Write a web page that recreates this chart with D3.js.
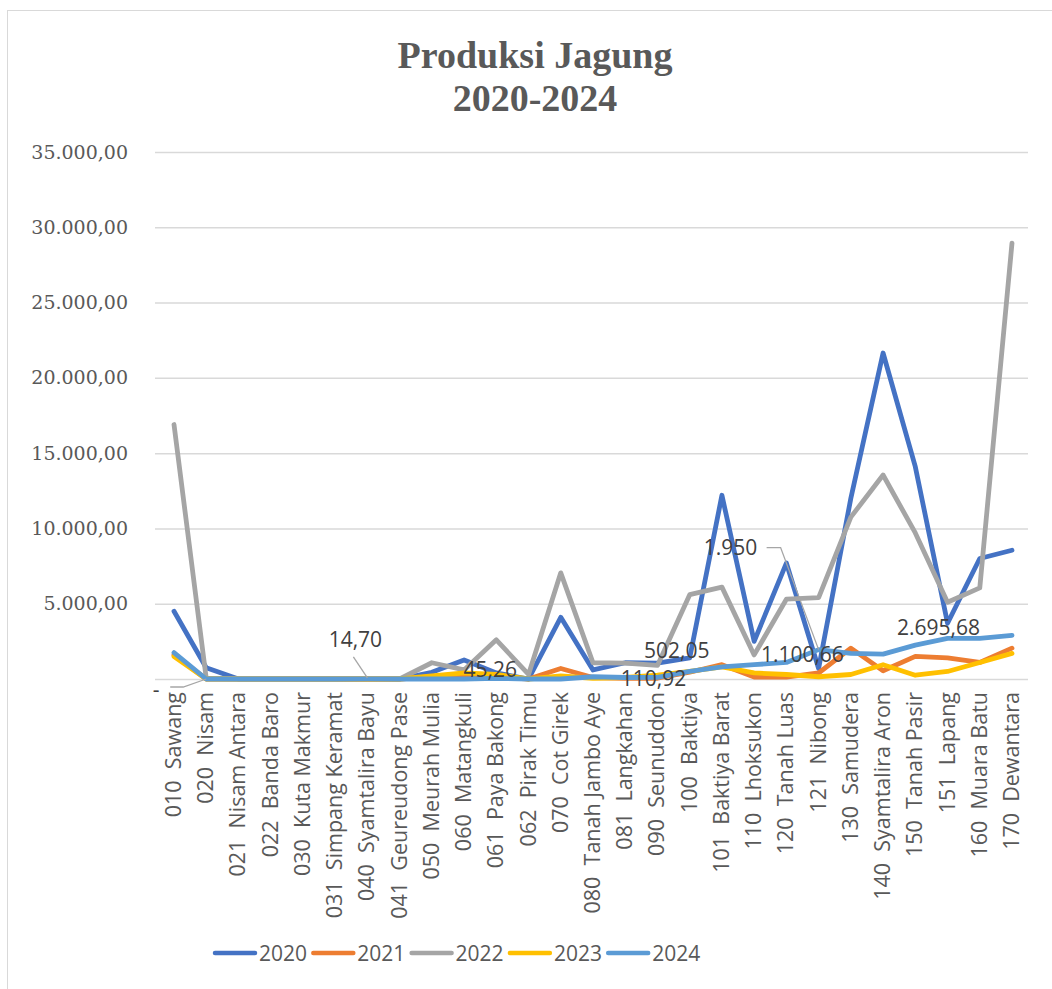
<!DOCTYPE html>
<html>
<head>
<meta charset="utf-8">
<script src="https://cdn.jsdelivr.net/npm/d3@7"></script>
<style>
  body { margin: 0; background: #fff; }
  svg { display: block; }
</style>
</head>
<body>
<div id="chart"></div>
<script>
// kecamatan (x axis categories)
const categories = [
  "010  Sawang", "020  Nisam", "021  Nisam Antara", "022  Banda Baro",
  "030  Kuta Makmur", "031  Simpang Keramat", "040  Syamtalira Bayu",
  "041  Geureudong Pase", "050  Meurah Mulia", "060  Matangkuli",
  "061  Paya Bakong", "062  Pirak Timu", "070  Cot Girek",
  "080  Tanah Jambo Aye", "081  Langkahan", "090  Seunuddon",
  "100  Baktiya", "101  Baktiya Barat", "110  Lhoksukon",
  "120  Tanah Luas", "121  Nibong", "130  Samudera",
  "140  Syamtalira Aron", "150  Tanah Pasir", "151  Lapang",
  "160  Muara Batu", "170  Dewantara"
];

const years = ["2020", "2021", "2022", "2023", "2024"];

// produksi per tahun
const v2020 = [4500, 750, 0, 0, 0, 0, 0, 0, 450, 1260, 400, 0, 4100, 600, 1080, 1050,
  1400, 12200, 2500, 7700, 700, 12000, 21650, 14100, 3700, 8000, 8550];
const v2021 = [1600, 0, 0, 0, 0, 0, 0, 0, 150, 250, 150, 0, 700, 100, 50, 50,
  450, 950, 130, 130, 400, 2050, 550, 1500, 1400, 1100, 2050];
const v2022 = [16900, 50, 0, 0, 0, 0, 0, 0, 1080, 600, 2600, 300, 7050, 1080, 1050, 900,
  5600, 6100, 1600, 5300, 5400, 10750, 13550, 9700, 5100, 6050, 28950];
const v2023 = [1500, 0, 0, 0, 0, 0, 0, 0, 200, 400, 300, 0, 200, 50, 100, 250,
  500, 800, 400, 300, 150, 300, 950, 250, 500, 1100, 1700];
const v2024 = [1750, 0, 0, 0, 0, 0, 14.70, 0, 0, 0, 45.26, 0, 0, 150, 100, 110.92,
  502.05, 800, 950, 1100.66, 1950, 1700, 1650, 2250, 2695.68, 2700, 2900];

const seriesValues = [v2020, v2021, v2022, v2023, v2024];
const colors = ["#4472c4", "#ed7d31", "#a5a5a5", "#ffc000", "#5b9bd5"];

const yTicks = [0, 5000, 10000, 15000, 20000, 25000, 30000, 35000];

// data labels shown on the 2024 series: category index + label offset (and leader)
const labels2024 = [
  { i: 1,  dx: -50, dy: 11,   leader: [[-36, 8], [-23, 8], [0, 0]] },
  { i: 6,  dx: -12, dy: -39,  leader: [[-14, -22], [0, -1]] },
  { i: 10, dx: -6,  dy: -9 },
  { i: 15, dx: -4,  dy: 1 },
  { i: 16, dx: -13, dy: -21 },
  { i: 19, dx: 16,  dy: -8 },
  { i: 20, dx: -88, dy: -102, leader: [[-52, -102], [-38, -102], [0, 0]] },
  { i: 24, dx: -9,  dy: -11 }
];

const width = 1052;
const height = 989;

const idLocale = d3.formatLocale({ decimal: ",", thousands: ".", grouping: [3], currency: ["Rp", ""] });
const fmt2 = idLocale.format(",.2f");
const fmt0 = idLocale.format(",.0f");
const labelText = v => v === 0 ? "-" : (Number.isInteger(v) ? fmt0(v) : fmt2(v));

const svg = d3.select("#chart")
  .append("svg")
  .attr("width", width)
  .attr("height", height);

// chart frame
svg.append("rect")
  .attr("x", 7.5).attr("y", 10.5)
  .attr("width", 1200).attr("height", 1200)
  .attr("fill", "#fff")
  .attr("stroke", "#d9d9d9");

const x = d3.scalePoint()
  .domain(categories)
  .range([174, 1012]);

const y = d3.scaleLinear()
  .domain([0, 35000])
  .range([679, 152]);

// title
const title = svg.append("text")
  .attr("text-anchor", "middle")
  .attr("fill", "#595959")
  .style("font-family", "'Liberation Serif', 'Times New Roman', serif")
  .style("font-weight", "bold")
  .style("font-size", "38px");
title.append("tspan").attr("x", 535).attr("y", 68).text("Produksi Jagung");
title.append("tspan").attr("x", 535).attr("y", 111).text("2020-2024");

// gridlines + y labels
const yAxis = svg.append("g")
  .attr("transform", "translate(155,0)")
  .call(d3.axisLeft(y)
    .tickValues(yTicks)
    .tickSize(-873)
    .tickPadding(27)
    .tickFormat(d => d === 0 ? "" : fmt2(d)));
yAxis.select(".domain").remove();
yAxis.selectAll(".tick line")
  .attr("stroke", "#d9d9d9")
  .attr("stroke-width", 1.5);
yAxis.selectAll(".tick text")
  .attr("fill", "#595959")
  .style("font-family", "'DejaVu Serif', serif")
  .style("font-size", "19px");

// x labels (rotated)
svg.append("g")
  .selectAll("text")
  .data(categories)
  .join("text")
    .attr("transform", d => `translate(${x(d) + 7},692) rotate(-90)`)
    .attr("text-anchor", "end")
    .attr("fill", "#595959")
    .style("font-family", "'Open Sans', sans-serif")
    .style("font-size", "21.5px")
    .style("white-space", "pre")
    .attr("xml:space", "preserve")
    .text(d => d);

// lines
const line = d3.line()
  .x((d, i) => x(categories[i]))
  .y(d => y(d));

svg.append("g")
  .selectAll("path")
  .data(seriesValues)
  .join("path")
    .attr("d", d => line(d))
    .attr("fill", "none")
    .attr("stroke", (d, i) => colors[i])
    .attr("stroke-width", 4.8)
    .attr("stroke-linejoin", "round")
    .attr("stroke-linecap", "round");

// data labels for 2024
const lab = svg.append("g");
labels2024.forEach(l => {
  const px = x(categories[l.i]);
  const py = y(v2024[l.i]);
  if (l.leader) {
    lab.append("path")
      .attr("d", d3.line()(l.leader.map(p => [px + p[0], py + p[1]])))
      .attr("fill", "none")
      .attr("stroke", "#a6a6a6")
      .attr("stroke-width", 1.3);
  }
  lab.append("text")
    .attr("x", px + l.dx)
    .attr("y", py + l.dy)
    .attr("dy", "0.35em")
    .attr("text-anchor", "middle")
    .attr("fill", "#404040")
    .style("font-family", "'Open Sans', sans-serif")
    .style("font-size", "21px")
    .text(labelText(v2024[l.i]));
});

// legend
const legend = svg.append("g")
  .selectAll("g")
  .data(years)
  .join("g")
    .attr("transform", (d, i) => `translate(${215 + i * 98.3},953)`);
legend.append("line")
  .attr("x1", 0).attr("x2", 40)
  .attr("stroke", (d, i) => colors[i])
  .attr("stroke-width", 4.5)
  .attr("stroke-linecap", "round");
legend.append("text")
  .attr("x", 44)
  .attr("dy", "0.36em")
  .attr("fill", "#595959")
  .style("font-family", "'Liberation Sans Narrow', 'Open Sans', sans-serif")
  .style("font-size", "21px")
  .text(d => d);
</script>
</body>
</html>
